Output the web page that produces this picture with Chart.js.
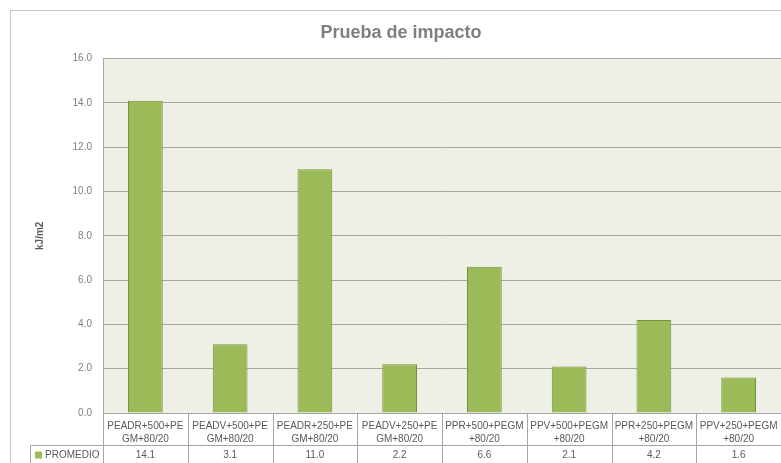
<!DOCTYPE html>
<html>
<head>
<meta charset="utf-8">
<title>Prueba de impacto</title>
<script src="https://cdn.jsdelivr.net/npm/chart.js@4/dist/chart.umd.min.js"></script>
<style>
  html, body { margin: 0; padding: 0; background: #fff; overflow: hidden; }
  #wrap { width: 781px; height: 463px; }
</style>
</head>
<body>
<div id="wrap"><canvas id="impactChart" width="781" height="463"></canvas></div>
<script>
// Muestras (etiquetas de dos líneas como en la tabla de datos)
const categories = [
    ['PEADR+500+PE', 'GM+80/20'],
    ['PEADV+500+PE', 'GM+80/20'],
    ['PEADR+250+PE', 'GM+80/20'],
    ['PEADV+250+PE', 'GM+80/20'],
    ['PPR+500+PEGM', '+80/20'],
    ['PPV+500+PEGM', '+80/20'],
    ['PPR+250+PEGM', '+80/20'],
    ['PPV+250+PEGM', '+80/20']
];
const seriesName = 'PROMEDIO';
const promedio = [14.1, 3.1, 11.0, 2.2, 6.6, 2.1, 4.2, 1.6];
const yTicks = [0, 2, 4, 6, 8, 10, 12, 14, 16];

const FONT = "'Liberation Sans', Arial, sans-serif";
const GRID = '#a6a6a6';
const TEXT = '#595959';

// Fondo del área de trazado y marco exterior
const plotBackground = {
    id: 'plotBackground',
    beforeDraw(chart) {
        const { ctx, chartArea: a } = chart;
        ctx.save();
        ctx.fillStyle = '#ffffff';
        ctx.fillRect(0, 0, chart.width, chart.height);
        ctx.strokeStyle = '#c6c6c6';
        ctx.lineWidth = 1;
        ctx.beginPath();
        ctx.moveTo(10.5, chart.height);
        ctx.lineTo(10.5, 10.5);
        ctx.lineTo(chart.width, 10.5);
        ctx.stroke();
        ctx.fillStyle = '#eef0e6';
        ctx.fillRect(a.left, a.top, a.right - a.left, a.bottom - a.top);
        ctx.restore();
    }
};

// Tabla de datos bajo el eje X
const dataTable = {
    id: 'dataTable',
    afterDraw(chart) {
        const { ctx, chartArea: a } = chart;
        const x = chart.scales.x;
        const n = categories.length;
        const w = (a.right - a.left) / n;
        const rowTop = x.bottom;
        const bottom = chart.height;
        ctx.save();
        ctx.strokeStyle = GRID;
        ctx.lineWidth = 1;
        ctx.beginPath();
        for (let i = 0; i <= n; i++) {
            const px = Math.round(a.left + i * w) + 0.5;
            ctx.moveTo(px, a.bottom);
            ctx.lineTo(px, bottom);
        }
        ctx.moveTo(30.5, Math.round(rowTop) + 0.5);
        ctx.lineTo(chart.width, Math.round(rowTop) + 0.5);
        ctx.moveTo(30.5, Math.round(rowTop) + 0.5);
        ctx.lineTo(30.5, bottom);
        ctx.stroke();

        const cy = rowTop + 10;
        ctx.fillStyle = '#9bbb59';
        ctx.fillRect(35, cy - 3.5, 7, 7);
        ctx.font = '10px ' + FONT;
        ctx.fillStyle = TEXT;
        ctx.textBaseline = 'middle';
        ctx.textAlign = 'left';
        ctx.fillText(seriesName, 45, cy);
        ctx.textAlign = 'center';
        promedio.forEach((v, i) => {
            ctx.fillText(v.toFixed(1), x.getPixelForValue(i), cy);
        });
        ctx.restore();
    }
};

new Chart(document.getElementById('impactChart'), {
    type: 'bar',
    data: {
        labels: categories,
        datasets: [{
            label: seriesName,
            data: promedio,
            backgroundColor: '#9bbb59',
            borderColor: '#76923c',
            borderWidth: 1,
            categoryPercentage: 1,
            barPercentage: 0.41
        }]
    },
    options: {
        responsive: false,
        animation: false,
        devicePixelRatio: 1,
        layout: { padding: { left: 21, top: 10, right: 0, bottom: 18 } },
        plugins: {
            legend: { display: false },
            tooltip: { enabled: false },
            title: {
                display: true,
                text: 'Prueba de impacto',
                color: '#7f7f7f',
                font: { family: FONT, size: 18, weight: 'bold' },
                padding: { top: 12, bottom: 15 }
            }
        },
        scales: {
            x: {
                grid: { display: false },
                border: { display: false },
                ticks: {
                    color: TEXT,
                    font: { family: FONT, size: 10, lineHeight: 1.3 },
                    padding: -1,
                    maxRotation: 0,
                    autoSkip: false
                },
                afterFit(scale) { scale.height = 32; }
            },
            y: {
                min: 0,
                max: 16,
                afterBuildTicks(scale) { scale.ticks = yTicks.map(v => ({ value: v })); },
                grid: { color: GRID, tickLength: 0 },
                border: { color: GRID },
                ticks: {
                    color: '#7f7f7f',
                    font: { family: FONT, size: 10 },
                    padding: 11,
                    callback: v => Number(v).toFixed(1)
                },
                title: {
                    display: true,
                    text: 'kJ/m2',
                    color: TEXT,
                    font: { family: FONT, size: 10, weight: 'bold' },
                    padding: { top: 13, bottom: 0 }
                },
                afterFit(scale) { scale.width = 82; }
            }
        }
    },
    plugins: [plotBackground, dataTable]
});
</script>
</body>
</html>
